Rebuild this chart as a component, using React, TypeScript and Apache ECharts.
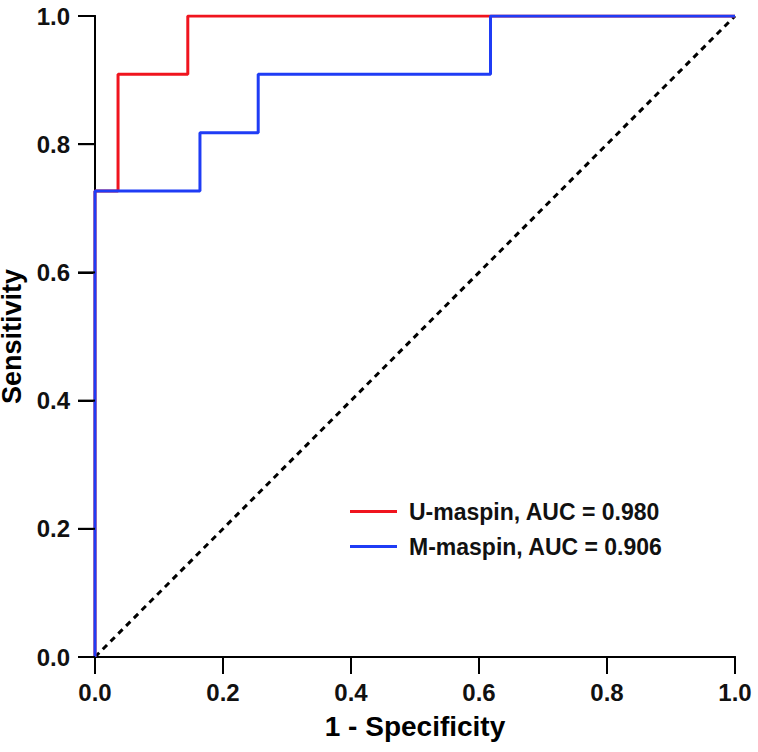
import React, { useEffect, useRef } from "react";
import * as echarts from "echarts";

const uMaspinFpr = [0, 0, 0.036, 0.036, 0.145, 0.145, 1.0];
const uMaspinTpr = [0, 0.727, 0.727, 0.909, 0.909, 1.0, 1.0];
const mMaspinFpr = [0, 0, 0.164, 0.164, 0.255, 0.255, 0.618, 0.618, 1.0];
const mMaspinTpr = [0, 0.727, 0.727, 0.818, 0.818, 0.909, 0.909, 1.0, 1.0];
const refX = [0, 1];
const refY = [0, 1];
const xTicks = [0, 0.2, 0.4, 0.6, 0.8, 1.0];
const yTicks = [0, 0.2, 0.4, 0.6, 0.8, 1.0];
const seriesNames = ["U-maspin, AUC = 0.980", "M-maspin, AUC = 0.906"];
const xTitle = "1 - Specificity";
const yTitle = "Sensitivity";

const zip = (a: number[], b: number[]) => a.map((v, i) => [v, b[i]]);

export default function App() {
  const ref = useRef<HTMLDivElement>(null);
  useEffect(() => {
    if (!ref.current) return;
    const chart = echarts.init(ref.current, undefined, { renderer: "svg" });
    const font = "Liberation Sans, Arial, sans-serif";
    const TICK = 17;
    const frameAxis = {
      type: "value",
      min: 0,
      max: 1,
      interval: 0.2,
      axisLine: { show: true, lineStyle: { color: "#000", width: 2 } },
      axisTick: { show: false },
      axisLabel: { show: false },
      splitLine: { show: false },
    };
    chart.setOption({
      animation: false,
      grid: {
        left: 95,
        right: 23,
        top: 16,
        bottom: 95,
        outerBoundsMode: "none",
      },
      legend: {
        orient: "vertical",
        left: 345,
        top: 495,
        itemWidth: 47,
        itemHeight: 3,
        itemGap: 12,
        icon: "rect",
        data: seriesNames,
        textStyle: {
          fontFamily: font,
          fontWeight: "bold",
          fontSize: 23,
          color: "#111",
          padding: [0, 0, 0, 7],
        },
      },
      xAxis: [
        {
          type: "value",
          position: "bottom",
          min: 0,
          max: 1,
          interval: 0.2,
          name: xTitle,
          nameLocation: "middle",
          nameGap: 55,
          nameTextStyle: { fontFamily: font, fontWeight: "bold", fontSize: 28, color: "#000" },
          axisLine: { show: true, lineStyle: { color: "#000", width: 2 } },
          axisTick: { show: true, length: TICK, lineStyle: { color: "#000", width: 2 } },
          axisLabel: {
            show: true,
            margin: 23,
            fontFamily: font,
            fontWeight: "bold",
            fontSize: 24,
            color: "#111",
            formatter: (v: number) => v.toFixed(1),
          },
          splitLine: { show: false },
        },
        { ...frameAxis, position: "top" },
      ],
      yAxis: [
        {
          type: "value",
          position: "left",
          min: 0,
          max: 1,
          interval: 0.2,
          name: yTitle,
          nameLocation: "middle",
          nameGap: 56,
          nameTextStyle: { fontFamily: font, fontWeight: "bold", fontSize: 27, color: "#000" },
          axisLine: { show: true, lineStyle: { color: "#000", width: 2 } },
          axisTick: { show: true, length: TICK, lineStyle: { color: "#000", width: 2 } },
          axisLabel: {
            show: true,
            margin: 25,
            fontFamily: font,
            fontWeight: "bold",
            fontSize: 24,
            color: "#111",
            formatter: (v: number) => v.toFixed(1),
          },
          splitLine: { show: false },
        },
        { ...frameAxis, position: "right" },
      ],
      series: [
        {
          type: "line",
          name: "reference",
          data: zip(refX, refY),
          symbol: "none",
          lineStyle: { color: "#000", width: 3, type: [6, 5] },
          z: 1,
        },
        {
          type: "line",
          name: seriesNames[0],
          data: zip(uMaspinFpr, uMaspinTpr),
          symbol: "none",
          color: "#f0141e",
          lineStyle: { color: "#f0141e", width: 3 },
          z: 2,
        },
        {
          type: "line",
          name: seriesNames[1],
          data: zip(mMaspinFpr, mMaspinTpr),
          symbol: "none",
          color: "#1f3cf5",
          lineStyle: { color: "#1f3cf5", width: 3 },
          z: 3,
        },
      ],
    });

    // Tick marks positioned through the chart's own scales
    const tickEls: any[] = [];
    xTicks.forEach((v) => {
      const p = chart.convertToPixel({ xAxisIndex: 0, yAxisIndex: 0 }, [v, 0]) as number[];
      tickEls.push({
        type: "rect",
        z: 200,
        silent: true,
        shape: { x: p[0] - 1, y: p[1], width: 2, height: TICK },
        style: { fill: "#000" },
      });
    });
    yTicks.forEach((v) => {
      const p = chart.convertToPixel({ xAxisIndex: 0, yAxisIndex: 0 }, [0, v]) as number[];
      tickEls.push({
        type: "rect",
        z: 200,
        silent: true,
        shape: { x: p[0] - TICK, y: p[1] - 1, width: TICK, height: 2 },
        style: { fill: "#000" },
      });
    });
    chart.setOption({ graphic: { elements: tickEls } });

    return () => chart.dispose();
  }, []);
  return <div ref={ref} style={{ position: "absolute", left: 0, top: 0, width: 758, height: 752 }} />;
}
